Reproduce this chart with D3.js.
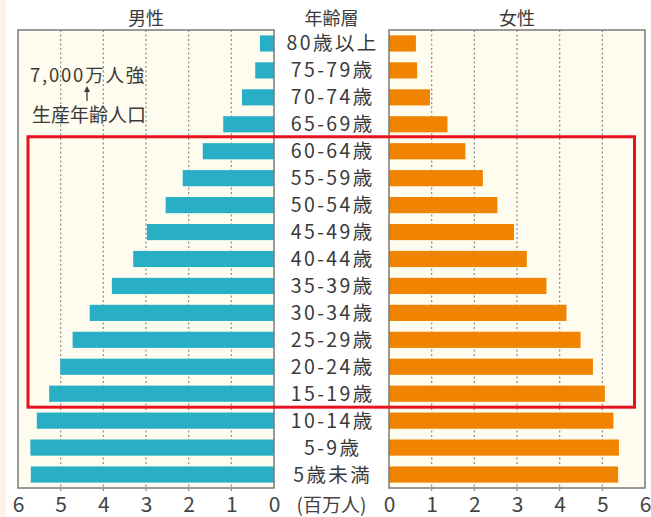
<!DOCTYPE html>
<html>
<head>
<meta charset="utf-8">
<script src="https://cdn.jsdelivr.net/npm/d3@7/dist/d3.min.js"></script>
<style>
body { margin: 0; background: #fff; }
text { font-family: "Noto Sans CJK JP", "Noto Sans", sans-serif; fill: #3a3a3a; }
</style>
</head>
<body>
<svg id="chart" width="651" height="517"></svg>
<script>
// age groups, top to bottom
var ageGroups = ["80歳以上", "75-79歳", "70-74歳", "65-69歳", "60-64歳", "55-59歳",
    "50-54歳", "45-49歳", "40-44歳", "35-39歳", "30-34歳", "25-29歳",
    "20-24歳", "15-19歳", "10-14歳", "5-9歳", "5歳未満"];
// population, millions
var male = [0.33, 0.44, 0.75, 1.19, 1.67, 2.14, 2.54, 2.98, 3.30, 3.80, 4.32, 4.72,
    5.01, 5.27, 5.56, 5.71, 5.70];
var female = [0.63, 0.66, 0.96, 1.37, 1.79, 2.20, 2.54, 2.93, 3.23, 3.69, 4.16, 4.49,
    4.78, 5.06, 5.26, 5.39, 5.37];
var ticks = [0, 1, 2, 3, 4, 5, 6];
var gridTicks = [1, 2, 3, 4, 5];
var titles = {male: "男性", age: "年齢層", female: "女性", unit: "(百万人)"};
var note = ["7,000万人強", "生産年齢人口"];
var workingAge = ["60-64歳", "15-19歳"];

var svg = d3.select("#chart");
var yTop = 30, yBottom = 488;

var xMale = d3.scaleLinear().domain([0, 6]).range([274, 18]);
var xFemale = d3.scaleLinear().domain([0, 6]).range([389, 645]);
var y = d3.scaleBand().domain(ageGroups).range([yTop, yBottom])
    .paddingInner(0.4).paddingOuter(0.2);

// faint left strip
svg.append("rect").attr("x", 0).attr("y", 0).attr("width", 6).attr("height", 517)
    .attr("fill", "#fdf3e8");

function panel(x, data, color, side) {
    var g = svg.append("g");
    var x0 = Math.min(x(0), x(6)), x1 = Math.max(x(0), x(6));
    g.append("rect").attr("x", x0).attr("y", yTop).attr("width", x1 - x0)
        .attr("height", yBottom - yTop).attr("fill", "#fefcee");
    g.selectAll(".grid").data(gridTicks).enter().append("line")
        .attr("x1", function(d) { return x(d); })
        .attr("x2", function(d) { return x(d); })
        .attr("y1", yTop).attr("y2", yBottom + 3)
        .attr("stroke", "#8a8a8a").attr("stroke-width", 1.2)
        .attr("stroke-dasharray", "2,2.5");
    g.selectAll(".bar").data(data).enter().append("rect")
        .attr("x", function(d) { return side < 0 ? x(d) : x(0); })
        .attr("y", function(d, i) { return y(ageGroups[i]); })
        .attr("width", function(d) { return Math.abs(x(d) - x(0)); })
        .attr("height", y.bandwidth())
        .attr("fill", color);
    g.append("rect").attr("x", x0).attr("y", yTop).attr("width", x1 - x0)
        .attr("height", yBottom - yTop).attr("fill", "none")
        .attr("stroke", "#7a7a7a").attr("stroke-width", 1.5);

    var axis = d3.axisBottom(x).tickValues(ticks).tickSize(0).tickPadding(0)
        .tickFormat(d3.format("d"));
    var ag = svg.append("g").attr("transform", "translate(0," + yBottom + ")").call(axis);
    ag.select(".domain").remove();
    ag.selectAll("text").attr("y", 24).attr("dy", 0)
        .attr("font-size", 21).attr("font-family", null).style("fill", "#444");
}

panel(xMale, male, "#28afc6", -1);
panel(xFemale, female, "#f08300", 1);

var mid = (xMale(0) + xFemale(0)) / 2;

// category labels (the original font has wide digits)
svg.selectAll(".age").data(ageGroups).enter().append("text")
    .attr("x", mid + 1.2)
    .attr("y", function(d) { return y(d) + y.bandwidth() / 2; })
    .attr("dy", "0.36em")
    .attr("text-anchor", "middle")
    .attr("font-size", 19.5)
    .attr("letter-spacing", 2.4)
    .text(function(d) { return d; });

// headers
svg.append("text").attr("x", (xMale(0) + xMale(6)) / 2).attr("y", 25)
    .attr("text-anchor", "middle").attr("font-size", 18).text(titles.male);
svg.append("text").attr("x", mid).attr("y", 25)
    .attr("text-anchor", "middle").attr("font-size", 18).text(titles.age);
svg.append("text").attr("x", (xFemale(0) + xFemale(6)) / 2).attr("y", 25)
    .attr("text-anchor", "middle").attr("font-size", 18).text(titles.female);
svg.append("text").attr("x", mid).attr("y", yBottom + 24)
    .attr("text-anchor", "middle").attr("font-size", 19).style("fill", "#444")
    .text(titles.unit);

// annotation
var nx = 87;
svg.append("text").attr("x", nx + 1).attr("y", 82).attr("text-anchor", "middle")
    .attr("font-size", 18.5).attr("letter-spacing", 1.8).text(note[0]);
svg.append("line").attr("x1", nx).attr("x2", nx).attr("y1", 101).attr("y2", 90)
    .attr("stroke", "#3a3a3a").attr("stroke-width", 1.3);
svg.append("path").attr("d", "M" + (nx - 3) + ",92L" + nx + ",86L" + (nx + 3) + ",92Z")
    .attr("fill", "#3a3a3a");
svg.append("text").attr("x", nx + 2).attr("y", 122).attr("text-anchor", "middle")
    .attr("font-size", 19).text(note[1]);

// working-age box
var step = y.step(), gap = step - y.bandwidth();
var boxTop = y(workingAge[0]) - gap / 2 - 1;
var boxBottom = y(workingAge[1]) + y.bandwidth() + gap / 2;
svg.append("rect").attr("x", 28).attr("y", boxTop)
    .attr("width", 634.5 - 28).attr("height", boxBottom - boxTop)
    .attr("fill", "none").attr("stroke", "#e8121c").attr("stroke-width", 3);
</script>
</body>
</html>
